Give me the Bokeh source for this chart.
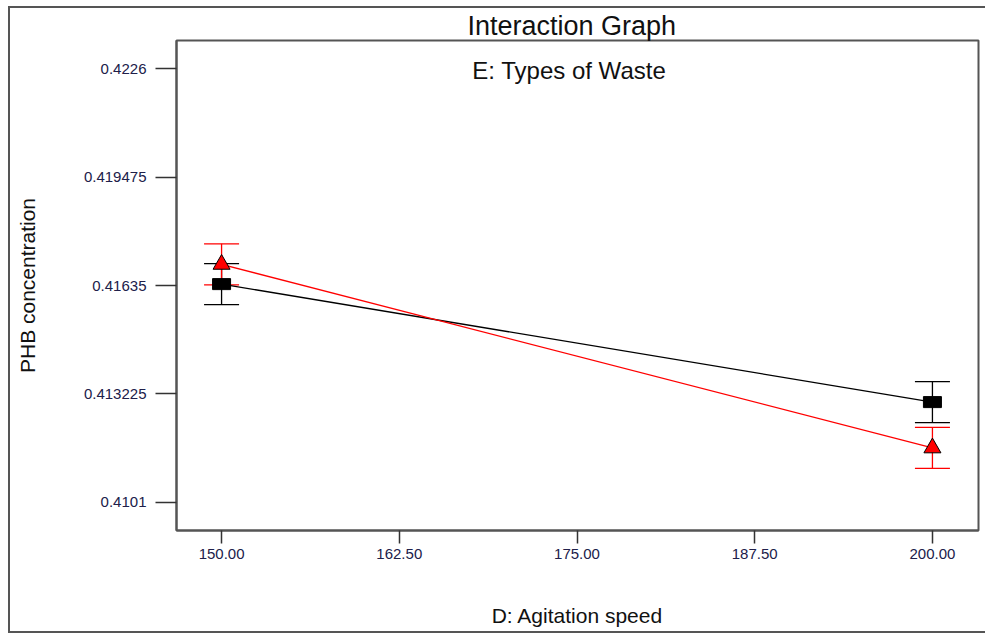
from bokeh.plotting import figure
from bokeh.models import (Range1d, FixedTicker, NumeralTickFormatter, ColumnDataSource,
                          Whisker, TeeHead, Label)
from bokeh.embed import file_html
from bokeh.resources import INLINE

# ---- data ----
speeds = [150.0, 200.0]
black_mean = [0.41639, 0.41299]
black_err = [0.00059, 0.00059]
red_mean = [0.41696, 0.41167]
red_err = [0.00059, 0.00059]
x_ticks = [150.0, 162.5, 175.0, 187.5, 200.0]
y_ticks = [0.4101, 0.413225, 0.41635, 0.419475, 0.4226]
y_tick_labels = ["0.4101", "0.413225", "0.41635", "0.419475", "0.4226"]
title_text = "Interaction Graph"
factor_text = "E: Types of Waste"
x_label = "D: Agitation speed"
y_label = "PHB concentration"

FONT = "Liberation Sans"
W, H = 975, 623

p = figure(width=W, height=H, output_backend="svg", toolbar_location=None,
           x_range=Range1d(146.83, 203.24), y_range=Range1d(0.40929, 0.42341),
           min_border_left=166, min_border_right=9, min_border_top=31, min_border_bottom=105)

p.styles = {"margin-left": "8px", "margin-top": "6px", "box-sizing": "content-box",
            "border-left": "2px solid #555555", "border-top": "2px solid #555555",
            "border-bottom": "2px solid #555555", "border-right": "none"}

p.title.text = title_text
p.title.text_font = FONT
p.title.text_font_size = "27px"
p.title.text_font_style = "normal"
p.title.align = "left"
p.title.offset = 291
p.title.standoff = 0
p.title.text_color = "#111111"

p.xgrid.visible = False
p.ygrid.visible = False
p.outline_line_color = "#555555"
p.outline_line_width = 2
p.background_fill_color = "white"
p.border_fill_color = "white"

for ax in (p.xaxis[0], p.yaxis[0]):
    ax.axis_line_color = "#555555"
    ax.axis_line_width = 2
    ax.major_tick_line_color = "#333333"
    ax.major_tick_line_width = 1.5
    ax.minor_tick_line_color = None
    ax.major_tick_in = 0
    ax.major_label_text_font = FONT
    ax.major_label_text_font_size = "15px"
    ax.major_label_text_color = "#20204a"
    ax.axis_label_text_font = FONT
    ax.axis_label_text_font_style = "normal"
    ax.axis_label_text_color = "#111111"

p.xaxis.ticker = FixedTicker(ticks=x_ticks)
p.xaxis.formatter = NumeralTickFormatter(format="0.00")
p.xaxis.major_tick_out = 13
p.xaxis.major_label_standoff = 5
p.xaxis.axis_label = x_label
p.xaxis.axis_label_text_font_size = "21px"
p.xaxis.axis_label_standoff = 42

p.yaxis.ticker = FixedTicker(ticks=y_ticks)
p.yaxis.major_label_overrides = {t: l for t, l in zip(y_ticks, y_tick_labels)}
p.yaxis.major_tick_out = 21
p.yaxis.major_label_standoff = 9
p.yaxis.axis_label = y_label
p.yaxis.axis_label_text_font_size = "21px"
p.yaxis.axis_label_standoff = 42

# lines
p.line(speeds, black_mean, line_color="black", line_width=1.3)
p.line(speeds, red_mean, line_color="red", line_width=1.3)

# error bars
bsrc = ColumnDataSource(dict(x=speeds, y=black_mean,
                             up=[m + e for m, e in zip(black_mean, black_err)],
                             lo=[m - e for m, e in zip(black_mean, black_err)]))
rsrc = ColumnDataSource(dict(x=speeds, y=red_mean,
                             up=[m + e for m, e in zip(red_mean, red_err)],
                             lo=[m - e for m, e in zip(red_mean, red_err)]))
p.add_layout(Whisker(base="x", upper="up", lower="lo", source=bsrc, line_color="black",
                     line_width=1.3,
                     upper_head=TeeHead(size=35, line_color="black", line_width=1.3),
                     lower_head=TeeHead(size=35, line_color="black", line_width=1.3)))
p.add_layout(Whisker(base="x", upper="up", lower="lo", source=rsrc, line_color="red",
                     line_width=1.3,
                     upper_head=TeeHead(size=35, line_color="red", line_width=1.3),
                     lower_head=TeeHead(size=35, line_color="red", line_width=1.3)))

# markers
p.rect(x="x", y="y", width=18, height=11, width_units="screen", height_units="screen",
       source=bsrc, fill_color="black", line_color="black")
p.scatter(x="x", y="y", source=rsrc, marker="triangle", size=17,
          fill_color="red", line_color="black", line_width=1)

# factor label
p.add_layout(Label(x=(p.x_range.start + p.x_range.end) / 2 - 0.58, y=0.42254,
                   text=factor_text, text_font=FONT, text_font_size="24px",
                   text_align="center", text_baseline="middle", text_color="#111111"))

open("out.html", "w").write(file_html(p, INLINE))
